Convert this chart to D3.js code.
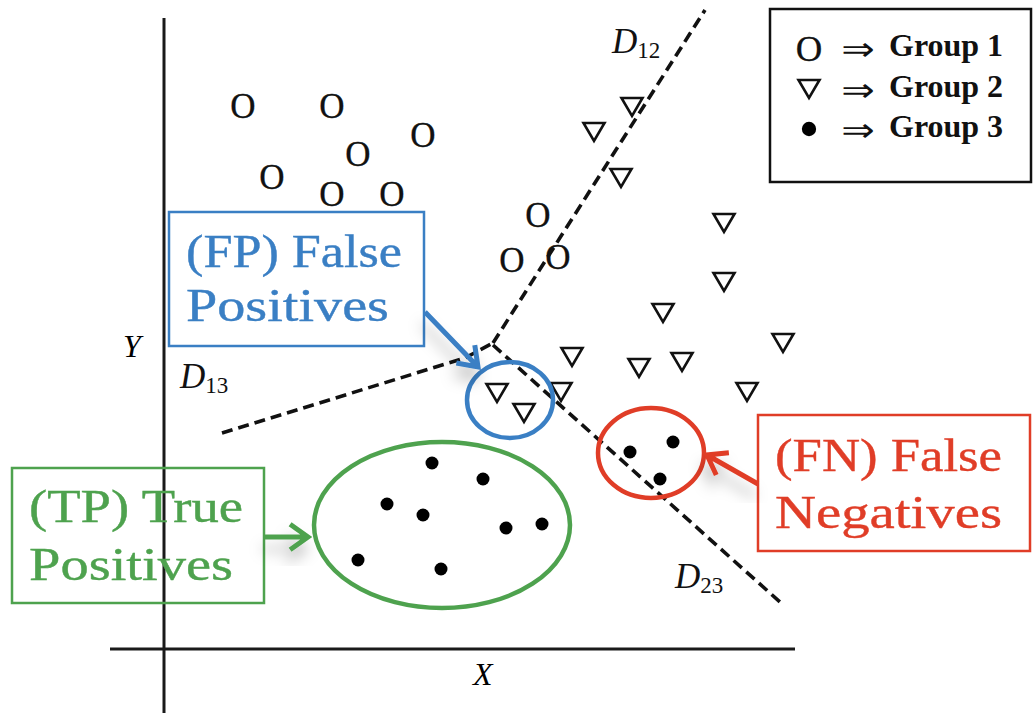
<!DOCTYPE html>
<html>
<head>
<meta charset="utf-8">
<script src="https://cdn.jsdelivr.net/npm/d3@7"></script>
<style>
  html, body { margin: 0; padding: 0; background: #fff; }
  svg { display: block; }
</style>
</head>
<body>
<svg id="chart" width="1034" height="713"></svg>
<script>
// ---- Data -------------------------------------------------------------
// Group 1: open circles
const group1X = [7.8, 16.7, 25.8, 19.3, 10.7, 16.7, 22.7, 37.3, 34.7, 39.3];
const group1Y = [54.4, 54.4, 51.5, 49.6, 47.3, 45.6, 45.6, 43.5, 39.0, 39.3];

// Group 2: downward triangles
const group2X = [46.7, 42.9, 45.6, 55.9, 55.9, 49.8, 40.7, 47.4, 51.7, 61.8, 58.2, 39.6, 33.2, 35.9];
const group2Y = [54.3, 51.8, 47.2, 42.7, 36.8, 33.7, 29.3, 28.2, 28.8, 30.7, 25.8, 25.8, 25.7, 23.7];

// Group 3: filled dots
const group3X = [26.7, 31.8, 22.2, 25.8, 34.1, 37.7, 19.3, 27.6, 46.5, 50.8, 49.5];
const group3Y = [18.7, 17.1, 14.6, 13.5, 12.2, 12.6, 9.0, 8.1, 19.8, 20.8, 17.1];

// Decision boundaries (polyline vertices)
const boundaryNames = ["12", "13", "23"];
const boundaryX = [[32.8, 54.0], [5.7, 30.0, 32.8], [32.8, 61.5]];
const boundaryY = [[30.7, 64.0], [21.7, 29.2, 30.7], [30.5, 4.8]];

// Legend entries
const legendLabels = ["Group 1", "Group 2", "Group 3"];

// ---- Scales ------------------------------------------------------------
const svg = d3.select("#chart");
const x = d3.scaleLinear().domain([0, 63]).range([165, 795]);
const y = d3.scaleLinear().domain([0, 63]).range([650, 20]);
const dx = v => x(v) - x(0);
const dy = v => y(0) - y(v);

const BLUE = "#3a7fc4", GREEN = "#4ea24e", RED = "#e03d27";
const SERIF = "'Liberation Serif', 'Times New Roman', serif";

// Soft shadow used under the callout arrows
const defs = svg.append("defs");
const f = defs.append("filter").attr("id", "soft").attr("x", "-60%").attr("y", "-60%")
  .attr("width", "220%").attr("height", "220%");
f.append("feDropShadow").attr("dx", -3).attr("dy", 12).attr("stdDeviation", 7)
  .attr("flood-color", "#000").attr("flood-opacity", 0.25);

// ---- Axes --------------------------------------------------------------
svg.append("line")
  .attr("x1", x(0) - 1).attr("x2", x(0) - 1)
  .attr("y1", y(63.2)).attr("y2", y(-6.5))
  .attr("stroke", "#1a1a1a").attr("stroke-width", 3);
svg.append("line")
  .attr("x1", x(-5.5)).attr("x2", x(63))
  .attr("y1", y(0) - 1).attr("y2", y(0) - 1)
  .attr("stroke", "#1a1a1a").attr("stroke-width", 3);

svg.append("text").attr("x", x(-4.2)).attr("y", y(29.3))
  .attr("font-family", SERIF).attr("font-style", "italic").attr("font-size", 32)
  .text("Y");
svg.append("text").attr("x", x(30.8)).attr("y", y(-3.5))
  .attr("font-family", SERIF).attr("font-style", "italic").attr("font-size", 32)
  .text("X");

// ---- Decision boundaries -----------------------------------------------
const line = d3.line().x(d => x(d[0])).y(d => y(d[1]));
boundaryNames.forEach((name, i) => {
  const pts = boundaryX[i].map((v, j) => [v, boundaryY[i][j]]);
  svg.append("path").attr("d", line(pts))
    .attr("fill", "none").attr("stroke", "#111").attr("stroke-width", 3.6)
    .attr("stroke-dasharray", "11,6");
});

// Boundary labels D12, D13, D23
const boundaryLabelPos = { "12": [44.7, 59.7], "13": [1.5, 26.2], "23": [51.0, 6.2] };
boundaryNames.forEach(name => {
  const [lx, ly] = boundaryLabelPos[name];
  const t = svg.append("text").attr("x", x(lx)).attr("y", y(ly))
    .attr("font-family", SERIF).attr("font-size", 35).attr("fill", "#111");
  t.append("tspan").attr("font-style", "italic").text("D");
  t.append("tspan").attr("font-size", 23).attr("dy", 5).attr("dx", 0).text(name);
});

// ---- Markers -----------------------------------------------------------
const triPath = (w, h) => `M${-w / 2},${-h / 2}L${w / 2},${-h / 2}L0,${h / 2}Z`;

function drawCircleMark(g, cx, cy, s = 1) {
  g.append("text").attr("x", cx).attr("y", cy + 12 * s)
    .attr("text-anchor", "middle").attr("font-family", SERIF).attr("font-size", 35 * s)
    .attr("fill", "#111").attr("stroke", "#111").attr("stroke-width", 0.3).text("O");
}
function drawTriangleMark(g, cx, cy) {
  g.append("path").attr("d", triPath(21, 18)).attr("transform", `translate(${cx},${cy})`)
    .attr("fill", "none").attr("stroke", "#111").attr("stroke-width", 2.6);
}
function drawDotMark(g, cx, cy, s = 1) {
  g.append("circle").attr("cx", cx).attr("cy", cy).attr("r", 6.5 * s).attr("fill", "#000");
}

const marks = svg.append("g");
group1X.forEach((v, i) => drawCircleMark(marks, x(v), y(group1Y[i])));
group2X.forEach((v, i) => drawTriangleMark(marks, x(v), y(group2Y[i])));
group3X.forEach((v, i) => drawDotMark(marks, x(v), y(group3Y[i])));

// ---- Callouts ------------------------------------------------------------
const callouts = [
  { color: GREEN, ellipse: [27.7, 12.5, 12.8, 8.3],
    box: [-15.3, 18.2, 9.9, 4.7], lines: ["(TP) True", "Positives"],
    textX: -13.6, baselines: [12.8, 7.0], widths: [214, 204],
    arrow: [[10.0, 11.3], [14.3, 11.3]] },
  { color: BLUE, ellipse: [34.5, 25.0, 4.3, 3.8],
    box: [0.4, 43.8, 25.9, 30.4], lines: ["(FP) False", "Positives"],
    textX: 2.1, baselines: [38.3, 32.9], widths: [216, 203],
    arrow: [[26.0, 33.8], [31.3, 28.3]] },
  { color: RED, ellipse: [48.6, 19.7, 5.3, 4.5],
    box: [59.3, 23.5, 86.5, 9.9], lines: ["(FN) False", "Negatives"],
    textX: 61.0, baselines: [17.9, 12.2], widths: [227, 227],
    arrow: [[59.3, 16.6], [54.2, 19.5]] }
];

callouts.forEach(c => {
  const [ex, ey, erx, ery] = c.ellipse;
  svg.append("ellipse").attr("cx", x(ex)).attr("cy", y(ey))
    .attr("rx", dx(erx)).attr("ry", dy(ery))
    .attr("fill", "none").attr("stroke", c.color).attr("stroke-width", 4.5);

  const [bx0, by0, bx1, by1] = c.box;
  svg.append("rect").attr("x", x(bx0)).attr("y", y(by0))
    .attr("width", x(bx1) - x(bx0)).attr("height", y(by1) - y(by0))
    .attr("fill", "none").attr("stroke", c.color).attr("stroke-width", 2.5);

  c.lines.forEach((txt, i) => {
    svg.append("text").attr("x", x(c.textX)).attr("y", y(c.baselines[i]))
      .attr("font-family", SERIF).attr("font-size", 46).attr("fill", c.color)
      .attr("stroke", c.color).attr("stroke-width", 0.4)
      .attr("textLength", c.widths[i]).attr("lengthAdjust", "spacingAndGlyphs")
      .text(txt);
  });

  // arrow: shaft plus open chevron head
  const [p0, p1] = c.arrow.map(p => [x(p[0]), y(p[1])]);
  const ang = Math.atan2(p1[1] - p0[1], p1[0] - p0[0]);
  const L = 22, spread = 0.62;
  const h1 = [p1[0] - L * Math.cos(ang - spread), p1[1] - L * Math.sin(ang - spread)];
  const h2 = [p1[0] - L * Math.cos(ang + spread), p1[1] - L * Math.sin(ang + spread)];
  const ag = svg.append("g").attr("filter", "url(#soft)");
  ag.append("path").attr("d", `M${p0}L${p1}M${h1}L${p1}L${h2}`)
    .attr("fill", "none").attr("stroke", c.color).attr("stroke-width", 5)
    .attr("stroke-linecap", "butt").attr("stroke-linejoin", "miter");
});

// ---- Legend --------------------------------------------------------------
const legend = svg.append("g");
legend.append("rect").attr("x", 770).attr("y", 9).attr("width", 261).attr("height", 173)
  .attr("fill", "#fff").attr("stroke", "#111").attr("stroke-width", 2.5);
const rowCenters = [48, 89, 129];
const legendDrawers = [
  (g, cx, cy) => drawCircleMark(g, cx, cy, 1.05),
  drawTriangleMark,
  (g, cx, cy) => drawDotMark(g, cx, cy, 1.1)
];
legendLabels.forEach((lab, i) => {
  const cy = rowCenters[i];
  legendDrawers[i](legend, 809, cy);
  legend.append("text").attr("x", 0).attr("y", 0).attr("text-anchor", "middle")
    .attr("transform", `translate(858,${cy + 12}) scale(1.25,1)`)
    .attr("font-family", "'DejaVu Sans', sans-serif").attr("font-size", 32).attr("fill", "#111")
    .text("\u21D2");
  legend.append("text").attr("x", 889).attr("y", cy + 8)
    .attr("font-family", SERIF).attr("font-weight", "bold").attr("font-size", 32)
    .attr("fill", "#111").text(lab);
});
</script>
</body>
</html>
